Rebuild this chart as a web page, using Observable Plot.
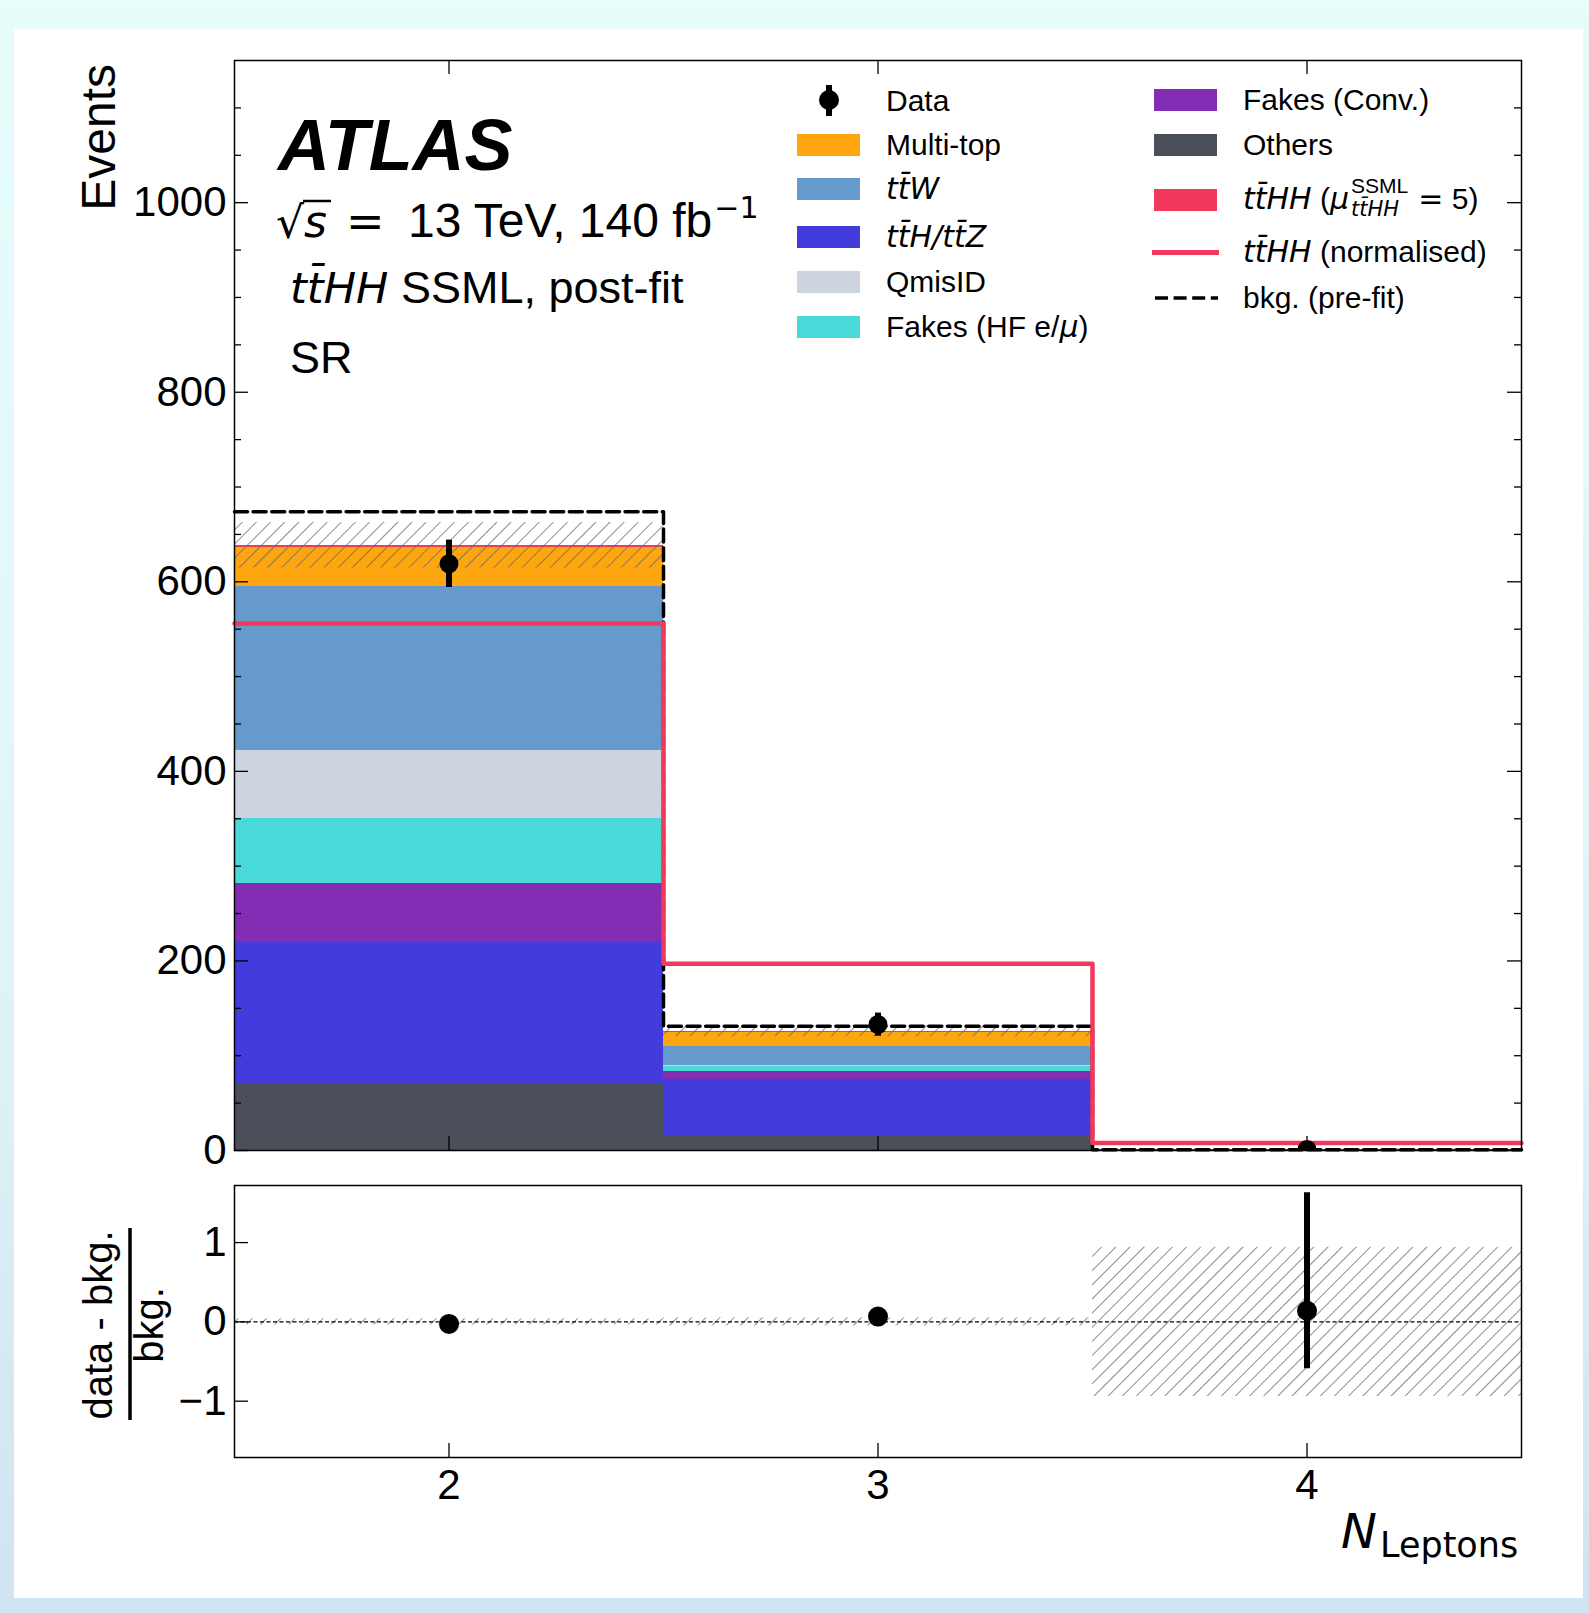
<!DOCTYPE html>
<html><head><meta charset="utf-8">
<script src="https://cdn.jsdelivr.net/npm/d3@7"></script>
<script src="https://cdn.jsdelivr.net/npm/@observablehq/plot@0.6"></script>
<style>
html,body{margin:0;padding:0;}
body{width:1589px;height:1613px;overflow:hidden;position:relative;background:linear-gradient(180deg,#e6fdfc 0%,#e0f4f7 60%,#d0e3f0 100%);}
#card{position:absolute;left:14px;top:29px;width:1569px;height:1569px;background:#fff;}
#main,#ratio,#overlay{position:absolute;left:0;width:1589px;}
#main{top:0}
#ratio{top:1160px}
#overlay{top:0;pointer-events:none}
</style></head><body>
<div id="card"></div>
<svg width="0" height="0" style="position:absolute;left:0;top:0"><defs>
<pattern id="hatch" patternUnits="userSpaceOnUse" width="10" height="10" patternTransform="rotate(45)"><line x1="0" y1="0" x2="0" y2="10" stroke="#666666" stroke-width="1.5"/></pattern>
</defs></svg>
<div id="main"></div>
<div id="ratio"></div>
<svg id="overlay" width="1589" height="1613"></svg>
<script>
// ---------------- data ----------------
const binCenters = [2, 3, 4];
const binLow = [1.5, 2.5, 3.5];
const binHigh = [2.5, 3.5, 4.5];

// post-fit stacked backgrounds + signal (bottom -> top)
const others    = [70, 15, 0.2];
const tthTtz    = [149, 60, 0.3];
const fakesConv = [63, 8.5, 0.05];
const fakesHF   = [68, 5.2, 0.05];
const qmisID    = [72, 0.5, 0.02];
const ttW       = [173, 21, 0.15];
const multiTop  = [41, 14, 0.15];
const tthhMu5   = [2.5, 1.8, 0.05];

const bkgUncertainty = [24, 6, 0.9];
const bkgPrefit      = [674, 131, 0.9];
const tthhNormalised = [556, 197, 8];

const dataValues = [619, 133, 1.1];
const dataLow    = [594, 120.5, 0.4];
const dataHigh   = [644, 145, 2.5];

const ratioValues = [-0.025, 0.067, 0.14];
const ratioLow    = [-0.06, 0.0, -0.59];
const ratioHigh   = [0.01, 0.13, 1.63];
const ratioBand   = [0.038, 0.05, 0.94];

const yTicksMajor = [0, 200, 400, 600, 800, 1000];
const yTicksMinor = [50, 100, 150, 250, 300, 350, 450, 500, 550, 650, 700, 750, 850, 900, 950, 1050, 1100];
const ratioTicks = [-1, 0, 1];
const xTicks = [2, 3, 4];

const stackNames = ["Others", "tt̄H/tt̄Z", "Fakes (Conv.)", "Fakes (HF e/μ)", "QmisID", "tt̄W", "Multi-top", "tt̄HH (μ=5)"];
const stackValues = [others, tthTtz, fakesConv, fakesHF, qmisID, ttW, multiTop, tthhMu5];
const stackColors = ["#4b4f5a", "#433bdb", "#822db3", "#4ad9d9", "#cdd3df", "#6699cc", "#fea60f", "#f1395c"];
const signalRed = "#f1395c";

// ---------------- derived tables ----------------
const stackRows = [];
binCenters.forEach((c, i) => {
  let cum = 0;
  stackValues.forEach((vals, p) => {
    stackRows.push({x1: binLow[i], x2: binHigh[i], y1: cum, y2: cum + vals[i], proc: stackNames[p]});
    cum += vals[i];
  });
});
const totals = binCenters.map((c, i) => d3.sum(stackValues, v => v[i]));
const edges = [...binLow, binHigh[binHigh.length - 1]];
const stepOf = vals => edges.map((x, i) => ({x, y: vals[Math.min(i, vals.length - 1)]}));
const bandRows = binCenters.map((c, i) => ({x1: binLow[i], x2: binHigh[i], y1: totals[i] - bkgUncertainty[i], y2: totals[i] + bkgUncertainty[i]}));
const dataRows = binCenters.map((c, i) => ({x: c, y: dataValues[i], lo: dataLow[i], hi: dataHigh[i]}));
const ratioRows = binCenters.map((c, i) => ({x: c, y: ratioValues[i], lo: ratioLow[i], hi: ratioHigh[i]}));
const ratioBandRows = binCenters.map((c, i) => ({x1: binLow[i], x2: binHigh[i], y1: -ratioBand[i], y2: ratioBand[i]}));

// ---------------- layout ----------------
const FONT = "'Liberation Sans', Arial, Helvetica, sans-serif";
const MATH = "'DejaVu Sans', sans-serif";
const W = 1589, FL = 234, FR = 68;
const frameW = W - FL - FR;
const mainH = 1185, mT = 60, mB = 35, mainFH = mainH - mT - mB;
const ratioH = 453, rT = 25, rB = 156, ratioFH = ratioH - rT - rB;
const MAJ = 14, MIN = 7;
const minusFmt = d => d < 0 ? "\u2212" + Math.abs(d) : String(d);
const tickStyle = {stroke: "black", strokeWidth: 1.3};

const mainPlot = Plot.plot({
  width: W, height: mainH,
  marginLeft: FL, marginRight: FR, marginTop: mT, marginBottom: mB,
  style: {fontFamily: FONT, fontSize: "42px", background: "transparent", color: "black"},
  x: {domain: [1.5, 4.5], axis: null},
  y: {domain: [0, 1150], axis: null},
  color: {domain: stackNames, range: stackColors},
  marks: [
    Plot.rect(stackRows, {x1: "x1", x2: "x2", y1: "y1", y2: "y2", fill: "proc", shapeRendering: "crispEdges"}),
    Plot.rect(bandRows, {x1: "x1", x2: "x2", y1: "y1", y2: "y2", fill: "url(#hatch)"}),
    Plot.line(stepOf(bkgPrefit), {x: "x", y: "y", curve: "step-after", stroke: "black", strokeWidth: 3.5, strokeDasharray: "13,5.6"}),
    Plot.line(stepOf(tthhNormalised), {x: "x", y: "y", curve: "step-after", stroke: signalRed, strokeWidth: 4.5}),
    Plot.ruleX(dataRows, {x: "x", y1: "lo", y2: "hi", stroke: "black", strokeWidth: 6, clip: true}),
    Plot.dot(dataRows, {x: "x", y: "y", r: 9.5, fill: "black", clip: true}),
    // inward ticks
    Plot.ruleY(yTicksMajor, {y: d => d, insetRight: frameW - MAJ, ...tickStyle}),
    Plot.ruleY(yTicksMinor, {y: d => d, insetRight: frameW - MIN, ...tickStyle}),
    Plot.ruleY(yTicksMajor, {y: d => d, insetLeft: frameW - MAJ, ...tickStyle}),
    Plot.ruleY(yTicksMinor, {y: d => d, insetLeft: frameW - MIN, ...tickStyle}),
    Plot.ruleX(xTicks, {x: d => d, insetTop: mainFH - MAJ, ...tickStyle}),
    Plot.ruleX(xTicks, {x: d => d, insetBottom: mainFH - MAJ, ...tickStyle}),
    Plot.axisY(yTicksMajor, {anchor: "left", tickSize: 0, tickPadding: 8, tickFormat: minusFmt, label: null}),
    Plot.frame({stroke: "black", strokeWidth: 1.5})
  ]
});
document.getElementById("main").appendChild(mainPlot);

const ratioPlot = Plot.plot({
  width: W, height: ratioH,
  marginLeft: FL, marginRight: FR, marginTop: rT, marginBottom: rB,
  style: {fontFamily: FONT, fontSize: "42px", background: "transparent", color: "black"},
  x: {domain: [1.5, 4.5], axis: null},
  y: {domain: [-1.71, 1.72], axis: null},
  marks: [
    Plot.rect(ratioBandRows, {x1: "x1", x2: "x2", y1: "y1", y2: "y2", fill: "url(#hatch)"}),
    Plot.ruleY([0], {stroke: "black", strokeWidth: 1.2, strokeDasharray: "4,2.5"}),
    Plot.ruleX(ratioRows, {x: "x", y1: "lo", y2: "hi", stroke: "black", strokeWidth: 6}),
    Plot.dot(ratioRows, {x: "x", y: "y", r: 10, fill: "black"}),
    Plot.ruleY(ratioTicks, {y: d => d, insetRight: frameW - MAJ, ...tickStyle}),
    Plot.ruleX(xTicks, {x: d => d, insetTop: ratioFH - MAJ, ...tickStyle}),
    Plot.axisY(ratioTicks, {anchor: "left", tickSize: 0, tickPadding: 8, tickFormat: minusFmt, label: null}),
    Plot.axisX(xTicks, {anchor: "bottom", tickSize: 0, tickPadding: 12, tickFormat: minusFmt, label: null}),
    Plot.frame({stroke: "black", strokeWidth: 1.5})
  ]
});
document.getElementById("ratio").appendChild(ratioPlot);

// ---------------- annotations, labels, legend ----------------
const NS = "http://www.w3.org/2000/svg";
const ov = document.getElementById("overlay");
function el(tag, attrs, parent = ov) {
  const e = document.createElementNS(NS, tag);
  for (const k in attrs) e.setAttribute(k, attrs[k]);
  parent.appendChild(e);
  return e;
}
// parts: [text, kind] where kind: undefined = text font, "mi" = math italic, "m" = math upright
function txt(x, y, parts, size, extra = {}) {
  const t = el("text", {x, y, "font-size": size, "font-family": FONT, fill: "black", ...extra});
  for (const [s, kind, sz] of parts) {
    const a = {};
    if (kind === "mi") { a["font-family"] = MATH; a["font-style"] = "oblique"; }
    if (kind === "m") { a["font-family"] = MATH; }
    if (sz) a["font-size"] = sz;
    const sp = el("tspan", a, t);
    sp.textContent = s;
  }
  return t;
}
const TTHH = "tt\u0304HH";

// experiment label block
txt(278, 170, [["ATLAS"]], 72, {"font-weight": "bold", "font-style": "italic"});
const sq = txt(276, 238, [["\u221A"]], 44, {"font-family": MATH});
const sqW = sq.getComputedTextLength();
const sEl = txt(276 + sqW, 237, [["s", "mi"]], 44);
const sW = sEl.getComputedTextLength();
el("line", {x1: 276 + sqW - 1, x2: 276 + sqW + sW + 4, y1: 201, y2: 201, stroke: "black", "stroke-width": 2.5});
txt(346, 237, [["="]], 46, {"font-family": MATH});
const en = txt(408, 237, [["13 TeV, 140 fb"]], 48);
const enW = en.getComputedTextLength();
txt(408 + enW + 2, 218, [["\u22121"]], 30, {"font-family": MATH});
txt(290, 303, [[TTHH, "mi", 43], [" SSML, post-fit"]], 45);
txt(290, 373, [["SR"]], 45);

// axis labels
el("text", {transform: "translate(115,64) rotate(-90)", "text-anchor": "end", "font-size": 48, "font-family": FONT}).textContent = "Events";
el("text", {transform: "translate(112,1325) rotate(-90)", "text-anchor": "middle", "font-size": 40, "font-family": FONT}).textContent = "data - bkg.";
el("text", {transform: "translate(163,1325) rotate(-90)", "text-anchor": "middle", "font-size": 40, "font-family": FONT}).textContent = "bkg.";
el("line", {x1: 130, x2: 130, y1: 1228, y2: 1420, stroke: "black", "stroke-width": 3.5});
txt(1341, 1548, [["N", "mi"]], 48);
txt(1380, 1557, [["Leptons"]], 35, {"font-family": MATH});

// legend
const colorOf = name => stackColors[stackNames.indexOf(name)];
const L1sw = 797, L1tx = 886, L2sw = 1154, L2tx = 1243, SWW = 63, SWH = 22, LFS = 30;
// Data marker
el("line", {x1: 829, x2: 829, y1: 85, y2: 116, stroke: "black", "stroke-width": 6});
el("circle", {cx: 829, cy: 100, r: 10, fill: "black"});
txt(L1tx, 111, [["Data"]], LFS);
const col1 = [
  ["Multi-top", 145, [["Multi-top"]]],
  ["tt̄W", 189, [["tt\u0304W", "mi"]]],
  ["tt̄H/tt̄Z", 237, [["tt\u0304H/tt\u0304Z", "mi"]]],
  ["QmisID", 282, [["QmisID"]]],
  ["Fakes (HF e/μ)", 327, [["Fakes (HF e/"], ["\u03BC", "mi"], [")"]]]
];
for (const [name, cy, parts] of col1) {
  el("rect", {x: L1sw, y: cy - SWH / 2, width: SWW, height: SWH, fill: colorOf(name)});
  txt(L1tx, cy + 10, parts, LFS);
}
const col2 = [
  ["Fakes (Conv.)", 100, [["Fakes (Conv.)"]]],
  ["Others", 145, [["Others"]]]
];
for (const [name, cy, parts] of col2) {
  el("rect", {x: L2sw, y: cy - SWH / 2, width: SWW, height: SWH, fill: colorOf(name)});
  txt(L2tx, cy + 10, parts, LFS);
}
// signal (mu = 5)
el("rect", {x: L2sw, y: 200 - SWH / 2, width: SWW, height: SWH, fill: signalRed});
const sig = txt(L2tx, 209, [[TTHH, "mi"], [" ("], ["\u03BC", "mi"]], LFS);
const sigW = sig.getComputedTextLength();
const supT = txt(L2tx + sigW + 2, 193, [["SSML"]], 21);
const subT = txt(L2tx + sigW + 2, 216, [[TTHH, "mi"]], 21);
const scW = Math.max(supT.getComputedTextLength(), subT.getComputedTextLength());
txt(L2tx + sigW + scW + 12, 209, [["=", "m"], [" 5)"]], LFS);
// normalised line
el("line", {x1: 1152, x2: 1219, y1: 252.5, y2: 252.5, stroke: signalRed, "stroke-width": 5});
txt(L2tx, 262, [[TTHH, "mi"], [" (normalised)"]], LFS);
// pre-fit dashed
el("line", {x1: 1155, x2: 1218, y1: 298, y2: 298, stroke: "black", "stroke-width": 3.5, "stroke-dasharray": "13,5.6"});
txt(L2tx, 308, [["bkg. (pre-fit)"]], LFS);
</script>
</body></html>
